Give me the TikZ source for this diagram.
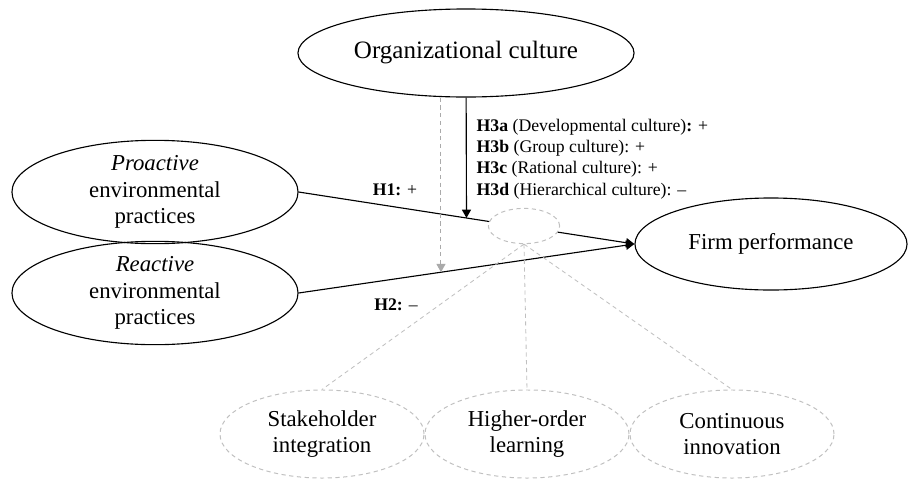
\documentclass[tikz,border=0pt]{standalone}
\usepackage{fontspec}
\setmainfont{Liberation Serif}
\usetikzlibrary{arrows.meta,positioning,calc,shapes.geometric}
\definecolor{facet}{RGB}{192,192,192}
\definecolor{facetarr}{RGB}{170,170,170}
\newcommand{\bigtxt}{\fontsize{16.2}{18.9}\selectfont}
\newcommand{\toptxt}{\fontsize{17.8}{20}\selectfont}
\newcommand{\labtxt}{\fontsize{12.6}{15.2}\selectfont}
\tikzset{
  latent/.style={ellipse, draw, line width=0.8pt, inner sep=0pt, align=center, font=\bigtxt},
  dim/.style={ellipse, draw=facet, fill=white, line width=0.7pt, dash pattern=on 3pt off 2.5pt, inner sep=0pt, align=center, font=\bigtxt},
  map/.style={-{Triangle[length=6pt,width=6.5pt]}, line width=0.8pt},
  modmap/.style={-{Triangle[length=6pt,width=6.5pt]}, line width=0.7pt, color=facetarr, dash pattern=on 3pt off 2.5pt},
  facetline/.style={line width=0.6pt, color=facet, dash pattern=on 3pt off 2.5pt},
  lab/.style={font=\labtxt, inner sep=1pt},
}
\begin{document}
\begin{tikzpicture}[x=0.025cm,y=-0.025cm]
  \useasboundingbox (0,0) rectangle (909,481);
  \node[latent, font=\toptxt, minimum width=8.4cm, minimum height=2.2cm] (org) at (466,53) {Organizational culture};
  \node[latent, minimum width=7.15cm, minimum height=2.25cm] (pro) at (155,192) {\textit{Proactive}\\environmental\\practices};
  \node[latent, minimum width=7.15cm, minimum height=2.3cm] (rea) at (155,293) {\textit{Reactive}\\environmental\\practices};
  \node[latent, minimum width=6.8cm, minimum height=2.3cm] (firm) at (771,244) {Firm performance};
  \foreach \n/\x/\t in {stk/322/{Stakeholder\\integration}, hol/527/{Higher-order\\learning}, cin/732/{Continuous\\innovation}}
    \node[dim, minimum width=5.1cm, minimum height=2.2cm] (\n) at (\x,434) {\t};
  % direct effects
  \draw[map] (pro.east) -- (firm.west);
  \draw[map] (rea.east) -- (firm.west);
  \coordinate (h1m) at ($(pro.east)!0.5!(firm.west)$);
  \coordinate (h2m) at ($(rea.east)!0.424!(firm.west)$);
  \node[dim, minimum width=1.78cm, minimum height=0.88cm] (mod) at (524,226) {};
  % moderation
  \draw[map] (org) -- (h1m);
  \draw[modmap] (h2m |- org.south) -- (h2m);
  \foreach \n in {stk,hol,cin} { \draw[facetline] (mod.south) -- (\n.north); }
  \node[lab] (h1) at (395,190) {\textbf{H1:} +};
  \node[lab] (h2) at (396,305) {\textbf{H2:} --};
  \node[lab, align=left, anchor=west] (h3) at (475,159) {\textbf{H3a} (Developmental culture)\textbf{:} +\\
    \textbf{H3b} (Group culture): +\\
    \textbf{H3c} (Rational culture): +\\
    \textbf{H3d} (Hierarchical culture): --};
\end{tikzpicture}
\end{document}
